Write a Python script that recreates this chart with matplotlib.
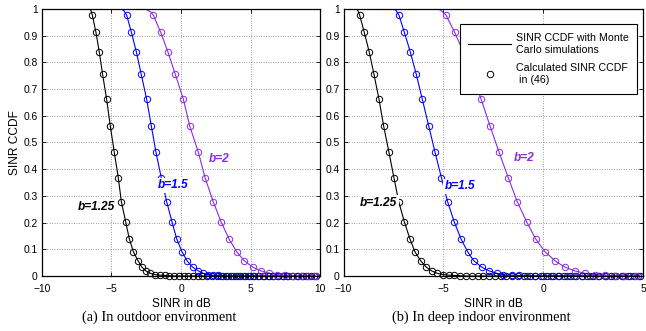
import matplotlib
matplotlib.use("Agg")
import matplotlib.pyplot as plt
from matplotlib.lines import Line2D

plt.rcParams["font.family"] = ["Liberation Sans", "DejaVu Sans"]

# CCDF levels hit by the markers (same for every curve)
LEVELS = [0.977, 0.913, 0.839, 0.755, 0.662, 0.563, 0.463, 0.368, 0.278,
          0.203, 0.139, 0.091, 0.057, 0.033, 0.019, 0.010]

# ---- (a) outdoor ----
out_b125_x = [-6.38, -6.12, -5.88, -5.64, -5.35, -5.09, -4.80, -4.51, -4.29,
              -3.98, -3.72, -3.43, -3.09, -2.81, -2.52, -2.20,
              -1.86, -1.52, -1.18, -0.84, -0.50, -0.16, 0.18, 0.52, 0.86,
              1.20, 1.54, 1.88, 2.22, 2.56, 2.90, 3.24, 3.58, 3.92, 4.26,
              4.60, 4.94, 5.28, 5.62, 5.96, 6.30, 6.64, 6.98, 7.32, 7.66,
              8.00, 8.34, 8.68, 9.02, 9.36, 9.70]
out_b125_tail = [0.005, 0.003, 0.002, 0.001, 0.0, 0.0, 0.0, 0.0, 0.0,
                 0.0, 0.0, 0.0, 0.0, 0.0, 0.0, 0.0, 0.0, 0.0, 0.0,
                 0.0, 0.0, 0.0, 0.0, 0.0, 0.0, 0.0, 0.0, 0.0, 0.0,
                 0.0, 0.0, 0.0, 0.0, 0.0, 0.0]
out_b125_top_x = [-6.55, -6.47]
out_b125_top_y = [1.0, 0.993]

out_b15_x = [-3.91, -3.57, -3.21, -2.86, -2.47, -2.14, -1.80, -1.42, -1.03,
             -0.65, -0.31, 0.07, 0.43, 0.84, 1.25, 1.60,
             1.96, 2.32, 2.68, 3.04, 3.40, 3.76, 4.12, 4.48, 4.84, 5.20,
             5.56, 5.92, 6.28, 6.64, 7.00, 7.36, 7.72, 8.08, 8.44, 8.80,
             9.16, 9.55]
out_b15_tail = [0.005, 0.003, 0.002, 0.001, 0.0, 0.0, 0.0, 0.0, 0.0, 0.0,
                0.0, 0.0, 0.0, 0.0, 0.0, 0.0, 0.0, 0.0, 0.0, 0.0, 0.0, 0.0]
out_b15_top_x = [-4.32, -4.12]
out_b15_top_y = [1.0, 0.995]

out_b2_x = [-1.99, -1.46, -0.94, -0.41, 0.17, 0.62, 1.25, 1.73, 2.32, 2.88,
            3.45, 4.00, 4.55, 5.16, 5.76, 6.35,
            6.90, 7.48, 8.07, 8.62, 9.15, 9.65]
out_b2_tail = [0.005, 0.003, 0.001, 0.0, 0.0, 0.0]
out_b2_top_x = [-2.71, -2.45, -2.20]
out_b2_top_y = [1.0, 0.997, 0.99]

# ---- (b) deep indoor ----
in_b125_x = [-9.20, -8.97, -8.72, -8.48, -8.23, -8.00, -7.73, -7.48, -7.24,
             -6.96, -6.68, -6.43, -6.14, -5.86, -5.59, -5.31,
             -5.01, -4.72, -4.46, -4.17, -3.87, -3.58, -3.29, -3.00, -2.71,
             -2.42, -2.13, -1.84, -1.55, -1.26, -0.97, -0.68, -0.39, -0.10,
             0.19, 0.48, 0.77, 1.06, 1.35, 1.64, 1.93, 2.22, 2.51, 2.80,
             3.09, 3.38, 3.67, 3.96, 4.25, 4.54, 4.83]
in_b125_tail = [0.005, 0.003, 0.002, 0.001, 0.0, 0.0, 0.0, 0.0, 0.0, 0.0,
                0.0, 0.0, 0.0, 0.0, 0.0, 0.0, 0.0, 0.0, 0.0, 0.0, 0.0, 0.0,
                0.0, 0.0, 0.0, 0.0, 0.0, 0.0, 0.0, 0.0, 0.0, 0.0, 0.0, 0.0,
                0.0]
in_b125_top_x = [-9.35, -9.28]
in_b125_top_y = [1.0, 0.993]

in_b15_x = [-7.23, -6.96, -6.66, -6.36, -6.06, -5.74, -5.42, -5.10, -4.79,
            -4.46, -4.12, -3.79, -3.48, -3.08, -2.70, -2.33,
            -2.00, -1.58, -1.20, -0.80, -0.41, -0.03, 0.38, 0.76, 1.18,
            1.54, 1.96, 2.35, 2.76, 3.15, 3.55, 3.99, 4.35, 4.77]
in_b15_tail = [0.005, 0.003, 0.002, 0.001, 0.0, 0.0, 0.0, 0.0, 0.0, 0.0,
               0.0, 0.0, 0.0, 0.0, 0.0, 0.0, 0.0, 0.0]
in_b15_top_x = [-7.51, -7.38]
in_b15_top_y = [1.0, 0.995]

in_b2_x = [-4.87, -4.44, -4.00, -3.55, -3.11, -2.67, -2.21, -1.75, -1.30,
           -0.83, -0.38, 0.09, 0.59, 1.09, 1.59, 2.09,
           2.59, 3.10, 3.60, 4.10, 4.64]
in_b2_tail = [0.005, 0.003, 0.001, 0.0, 0.0]
in_b2_top_x = [-5.34, -5.15]
in_b2_top_y = [1.0, 0.996]

# curve labels: (text, x, y)
out_labels = [("b=1.25", -7.46, 0.26), ("b=1.5", -1.65, 0.34), ("b=2", 2.01, 0.44)]
in_labels = [("b=1.25", -9.18, 0.275), ("b=1.5", -4.92, 0.336), ("b=2", -1.45, 0.443)]

Y_TICKS = [0, 0.1, 0.2, 0.3, 0.4, 0.5, 0.6, 0.7, 0.8, 0.9, 1]
Y_TICKLABELS = ["0", "0.1", "0.2", "0.3", "0.4", "0.5", "0.6", "0.7", "0.8", "0.9", "1"]

COLORS = ["#000000", "#0000ff", "#8a2be2"]
FS = 7.4


def draw_curve(ax, top_x, top_y, mx, tail, color):
    my = LEVELS + tail
    ax.plot(top_x + mx, top_y + my, color=color, lw=0.8, zorder=3)
    ax.plot(mx, my, ls="none", marker="o", ms=4.6, mfc="none", mec=color,
            mew=0.7, zorder=4, clip_on=False)


def style_axes(ax, xlim, xticks):
    ax.set_xlim(*xlim)
    ax.set_ylim(0, 1)
    ax.set_xticks(xticks)
    ax.set_yticks(Y_TICKS)
    ax.set_yticklabels(Y_TICKLABELS)
    ax.tick_params(direction="in", length=3, width=0.6, labelsize=FS,
                   top=True, right=True, pad=3)
    ax.tick_params(axis="x", pad=5.5)
    ax.grid(True, color="#444444", linestyle=(0, (1, 2.5)), linewidth=0.5)
    for s in ax.spines.values():
        s.set_linewidth(0.9)
        s.set_zorder(5)


fig = plt.figure(figsize=(6.46, 3.31), dpi=100)
ax1 = fig.add_axes([0.0650, 0.1662, 0.4304, 0.8066])
ax2 = fig.add_axes([0.5320, 0.1662, 0.4633, 0.8066])

draw_curve(ax1, out_b125_top_x, out_b125_top_y, out_b125_x, out_b125_tail, COLORS[0])
draw_curve(ax1, out_b15_top_x, out_b15_top_y, out_b15_x, out_b15_tail, COLORS[1])
draw_curve(ax1, out_b2_top_x, out_b2_top_y, out_b2_x, out_b2_tail, COLORS[2])

draw_curve(ax2, in_b125_top_x, in_b125_top_y, in_b125_x, in_b125_tail, COLORS[0])
draw_curve(ax2, in_b15_top_x, in_b15_top_y, in_b15_x, in_b15_tail, COLORS[1])
draw_curve(ax2, in_b2_top_x, in_b2_top_y, in_b2_x, in_b2_tail, COLORS[2])

for ax, labels in ((ax1, out_labels), (ax2, in_labels)):
    for (txt, x, y), c in zip(labels, COLORS):
        ax.text(x, y, txt, color=c, fontsize=8.6, fontweight="bold",
                fontstyle="italic", va="center", ha="left", zorder=6,
                bbox=dict(facecolor="white", edgecolor="none", pad=1.2))

style_axes(ax1, (-10, 10), [-10, -5, 0, 5, 10])
style_axes(ax2, (-10, 5), [-10, -5, 0, 5])

ax1.set_ylabel("SINR CCDF", fontsize=8.6, labelpad=1.5)
ax1.set_xlabel("SINR in dB", fontsize=8.6, labelpad=3.5)
ax2.set_xlabel("SINR in dB", fontsize=8.6, labelpad=3.5)

handles = [
    Line2D([], [], color="black", lw=0.8),
    Line2D([], [], ls="none", marker="o", ms=4.6, mfc="none", mec="black", mew=0.7),
]
leg = ax2.legend(handles, ["SINR CCDF with Monte\nCarlo simulations",
                           "Calculated SINR CCDF\n in (46)"],
                 loc="upper right", bbox_to_anchor=(0.981, 0.944),
                 borderaxespad=0, fontsize=7.7, handlelength=4.0,
                 fancybox=False, framealpha=1, edgecolor="black",
                 borderpad=0.8, labelspacing=0.75, handletextpad=0.45)
for t in leg.get_texts():
    t.set_linespacing(1.3)
leg.get_frame().set_linewidth(0.8)
leg.set_zorder(10)

fig.text(0.2467, 0.043, "(a) In outdoor environment", ha="center", va="center",
         fontsize=10.3, family="Liberation Serif")
fig.text(0.7448, 0.043, "(b) In deep indoor environment", ha="center", va="center",
         fontsize=10.3, family="Liberation Serif")

fig.savefig("out.png", dpi=100)
